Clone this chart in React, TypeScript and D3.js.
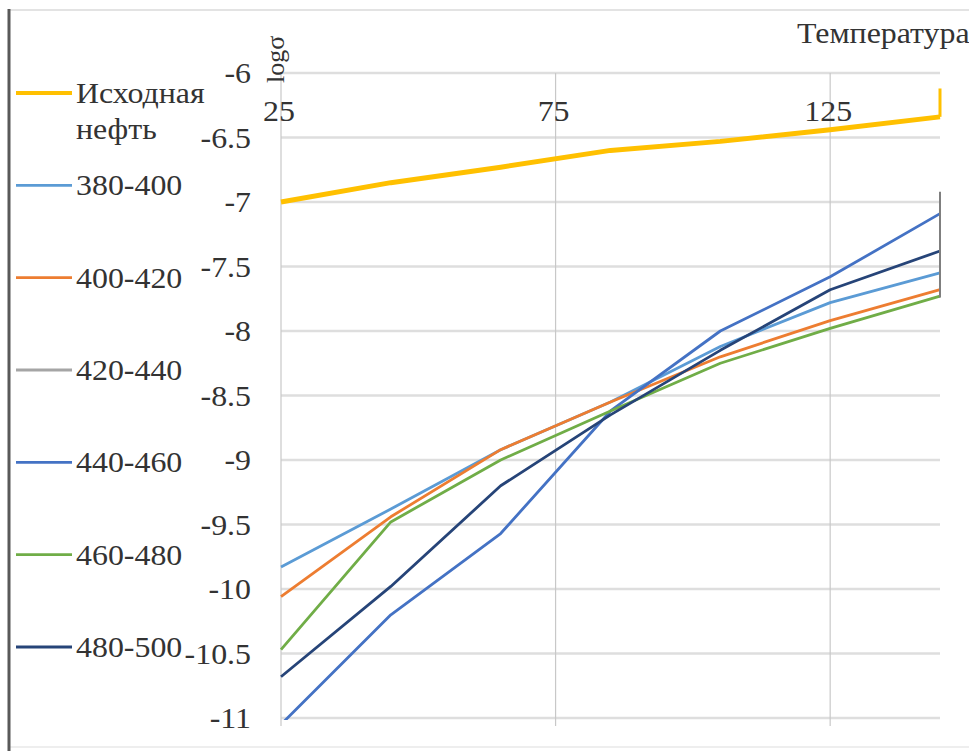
import React from "react";
import * as d3 from "d3";

const temperatures = [25, 45, 65, 85, 105, 125, 145];
const xTicks = [25, 75, 125];
const yTicks = [-6, -6.5, -7, -7.5, -8, -8.5, -9, -9.5, -10, -10.5, -11];

const seriesNames = ["Исходная нефть", "380-400", "400-420", "420-440", "440-460", "460-480", "480-500"];
const seriesColors = ["#FFC000", "#5B9BD5", "#ED7D31", "#A5A5A5", "#4472C4", "#70AD47", "#264478"];

const original = [-7.0, -6.85, -6.73, -6.6, -6.53, -6.44, -6.34];
const s380_400 = [-9.83, -9.38, -8.92, -8.55, -8.12, -7.78, -7.55];
const s400_420 = [-10.06, -9.44, -8.92, -8.55, -8.2, -7.92, -7.68];
const s420_440: number[] = [];
const s440_460 = [-11.05, -10.2, -9.57, -8.62, -8.0, -7.58, -7.09];
const s460_480 = [-10.47, -9.48, -9.0, -8.62, -8.25, -7.98, -7.73];
const s480_500 = [-10.68, -9.98, -9.2, -8.65, -8.15, -7.68, -7.38];

// short vertical end segments visible at the right edge of the plot
const endSpikeTop = [-6.12, -6.92];
const endSpikeBottom = [-6.34, -7.74];
const endSpikeColors = ["#FFC000", "#7F7F7F"];

const seriesValues = [original, s380_400, s400_420, s420_440, s440_460, s460_480, s480_500];

const W = 969;
const H = 751;
const FONT = "'Liberation Serif', 'Times New Roman', serif";
const FS = 29;
const SX = 1.1;
const TXT = "#333333";

function T(props: { x: number; y: number; anchor?: string; size?: number; children: React.ReactNode }) {
  const { x, y, anchor = "start", size = FS, children } = props;
  return (
    <g transform={`translate(${x},${y}) scale(${SX},1)`}>
      <text x={0} y={0} textAnchor={anchor} fontSize={size} fill={TXT} fontFamily={FONT}>
        {children}
      </text>
    </g>
  );
}

export default function App() {
  const x = d3.scaleLinear().domain([25, 145]).range([281, 940]);
  const y = d3.scaleLinear().domain([-6, -11]).range([73, 718]);
  const line = d3
    .line<[number, number]>()
    .x((d) => x(d[0]))
    .y((d) => y(d[1]));

  const legendY = d3.scaleLinear().domain([0, 6]).range([93, 647]);

  return (
    <svg
      width={W}
      height={H}
      style={{ position: "absolute", left: 0, top: 0, background: "#fff" }}
      fontFamily={FONT}
    >
      <defs>
        <clipPath id="plotClip">
          <rect x={278} y={60} width={670} height={660} />
        </clipPath>
      </defs>
      {/* chart border */}
      <line x1={9} x2={W} y1={10} y2={10} stroke="#e3e3e3" strokeWidth={2} />
      <line x1={9} x2={W} y1={747} y2={747} stroke="#eeeeee" strokeWidth={2} />
      <line x1={9} x2={9} y1={9} y2={H} stroke="#595959" strokeWidth={3} />

      {/* horizontal gridlines */}
      {yTicks.map((t) => (
        <line key={"h" + t} x1={x(25)} x2={x(145)} y1={y(t)} y2={y(t)} stroke="#dedede" strokeWidth={2.5} />
      ))}
      {/* vertical gridlines */}
      {xTicks.map((t) => (
        <line key={"v" + t} x1={x(t)} x2={x(t)} y1={y(-6)} y2={y(-11) + 8} stroke="#c8c8c8" strokeWidth={1.2} />
      ))}

      {/* y tick labels */}
      {yTicks.map((t) => (
        <T key={"yl" + t} x={251} y={y(t) + 10} anchor="end">
          {String(t)}
        </T>
      ))}
      {/* x tick labels */}
      {xTicks.map((t) => (
        <T key={"xl" + t} x={x(t) - 2} y={121} anchor="middle">
          {String(t)}
        </T>
      ))}

      {/* axis titles */}
      <T x={797} y={43}>Температура</T>
      <text transform={`translate(284,83) rotate(-90)`} fontSize={26} fill={TXT}>
        logσ
      </text>

      {/* series lines */}
      <g clipPath="url(#plotClip)">
        {seriesValues.map((vals, i) => {
          if (vals.length === 0) return null;
          const pts = vals.map((v, j) => [temperatures[j], v] as [number, number]);
          return (
            <path
              key={"s" + i}
              d={line(pts) || ""}
              fill="none"
              stroke={seriesColors[i]}
              strokeWidth={i === 0 ? 5 : 2.8}
              strokeLinejoin="round"
            />
          );
        })}
        {endSpikeTop.map((t, i) => (
          <line
            key={"sp" + i}
            x1={x(145)}
            x2={x(145)}
            y1={y(t)}
            y2={y(endSpikeBottom[i])}
            stroke={endSpikeColors[i]}
            strokeWidth={i === 0 ? 3 : 2}
          />
        ))}
      </g>

      {/* legend */}
      {seriesNames.map((name, i) => {
        const ly = legendY(i);
        const parts = i === 0 ? ["Исходная", "нефть"] : [name];
        return (
          <g key={"lg" + i}>
            <line x1={16} x2={72} y1={ly} y2={ly} stroke={seriesColors[i]} strokeWidth={i === 0 ? 4 : 2.8} />
            {parts.map((p, k) => (
              <T key={k} x={76} y={ly + 10 + k * 36}>
                {p}
              </T>
            ))}
          </g>
        );
      })}
    </svg>
  );
}
